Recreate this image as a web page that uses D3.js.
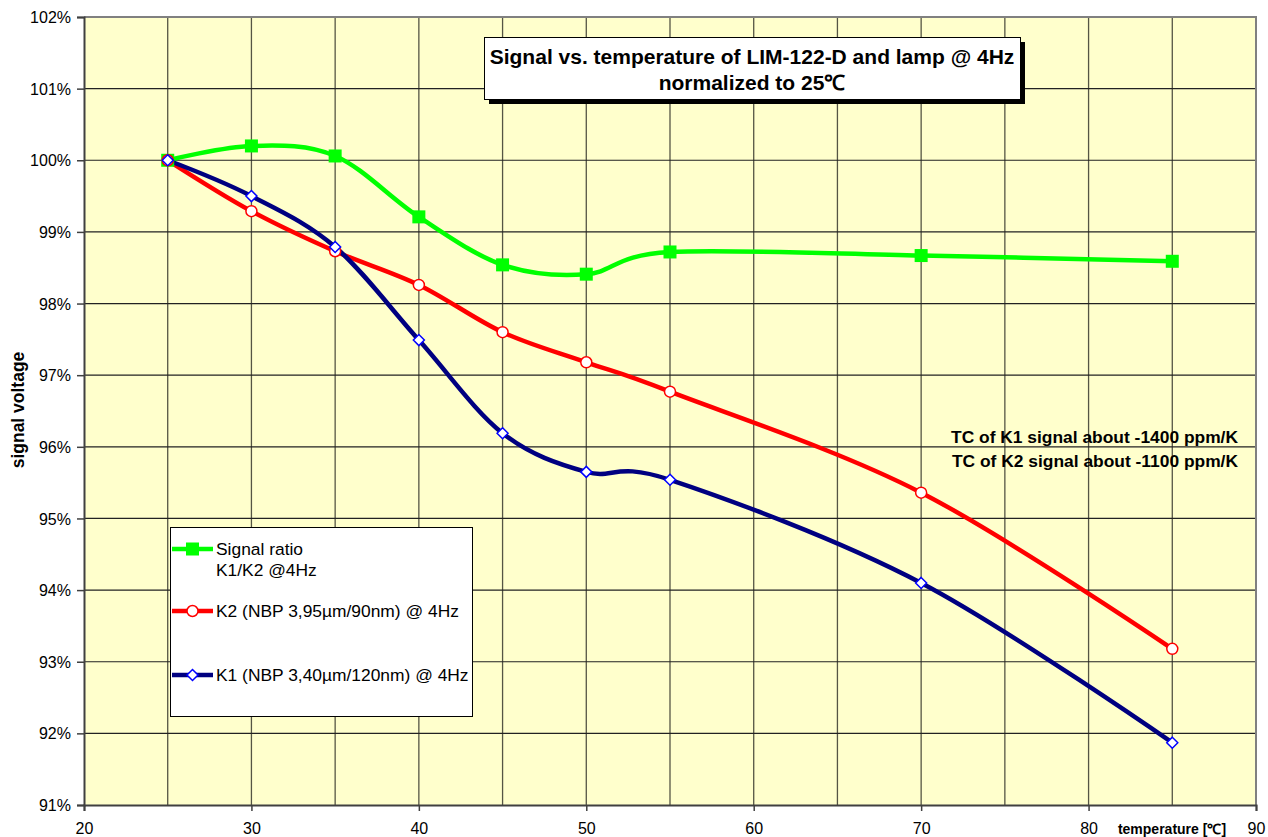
<!DOCTYPE html>
<html><head><meta charset="utf-8">
<script src="https://cdn.jsdelivr.net/npm/d3@7"></script>
<style>
body{margin:0;background:#fff;font-family:"Liberation Sans",Arial,sans-serif;}
svg text{font-family:"Liberation Sans",Arial,sans-serif;}
</style></head>
<body>
<svg id="chart" width="1268" height="837"></svg>
<script>
const temperatures = [25, 30, 35, 40, 45, 50, 55, 70, 85];
const ratioK1K2 = [100.0, 100.20, 100.06, 99.21, 98.54, 98.41, 98.72, 98.67, 98.59];
const k2Signal = [100.0, 99.29, 98.73, 98.26, 97.60, 97.18, 96.77, 95.36, 93.18];
const k1Signal = [100.0, 99.50, 98.79, 97.49, 96.19, 95.65, 95.54, 94.10, 91.87];
const xTicks = [20, 30, 40, 50, 60, 70, 80, 90];
const yTicks = [91, 92, 93, 94, 95, 96, 97, 98, 99, 100, 101, 102];
const seriesNames = ["Signal ratio|K1/K2 @4Hz", "K2 (NBP 3,95µm/90nm) @ 4Hz", "K1 (NBP 3,40µm/120nm) @ 4Hz"];
const titleLines = ["Signal vs. temperature of LIM-122-D and lamp @ 4Hz", "normalized to 25℃"];
const noteLines = ["TC of K1 signal about -1400 ppm/K", "TC of K2 signal about -1100 ppm/K"];

const svg = d3.select("#chart");
const L = 84, T = 17, R = 1256, B = 805;
const x = d3.scaleLinear().domain([20, 90]).range([L, R]);
const y = d3.scaleLinear().domain([91, 102]).range([B, T]);

// plot background
svg.append("rect").attr("x", L).attr("y", T).attr("width", R - L).attr("height", B - T).attr("fill", "#FFFFCC");

// grid
const g = svg.append("g");
d3.range(25, 90, 5).forEach(v => {
  g.append("line").attr("x1", x(v)).attr("x2", x(v)).attr("y1", T).attr("y2", B)
    .attr("stroke", "#555544").attr("stroke-width", 1.3);
});
yTicks.slice(1, -1).forEach(v => {
  g.append("line").attr("x1", L).attr("x2", R).attr("y1", y(v)).attr("y2", y(v))
    .attr("stroke", "#222").attr("stroke-width", 1.2);
});
// border top/right
svg.append("path").attr("d", `M${L},${T}H${R}V${B}`).attr("fill", "none").attr("stroke", "#808080").attr("stroke-width", 2);

// axes
const yAxis = d3.axisLeft(y).tickValues(yTicks).tickFormat(d => d + "%").tickSize(7).tickPadding(6);
const ya = svg.append("g").attr("transform", `translate(${L},0)`).call(yAxis);
const xAxis = d3.axisBottom(x).tickValues(xTicks).tickSize(6).tickPadding(12);
const xa = svg.append("g").attr("transform", `translate(0,${B})`).call(xAxis);
[ya, xa].forEach(a => {
  a.select(".domain").attr("stroke", "#404040").attr("stroke-width", 2);
  a.selectAll(".tick line").attr("stroke", "#404040").attr("stroke-width", 1.5);
  a.selectAll("text").attr("font-size", 16).attr("fill", "#000").attr("font-family", "Liberation Sans, Arial, sans-serif");
});
ya.selectAll("text").attr("dy", "0.35em");

// axis titles
svg.append("text").attr("transform", "translate(24,410) rotate(-90)").attr("text-anchor", "middle")
  .attr("font-size", 17.5).attr("font-weight", "bold").text("signal voltage");
svg.append("text").attr("x", 1172).attr("y", 834).attr("text-anchor", "middle")
  .attr("font-size", 14).attr("font-weight", "bold").text("temperature [℃]");

// series
const series = [
  {vals: ratioK1K2, line: "#00FF00", marker: "square"},
  {vals: k2Signal, line: "#FF0000", marker: "circle"},
  {vals: k1Signal, line: "#000080", marker: "diamond"}
];
const lineGen = d3.line().x(d => x(d[0])).y(d => y(d[1])).curve(d3.curveCatmullRom.alpha(0));
function drawMarker(sel, type, cx, cy) {
  if (type === "square") {
    sel.append("rect").attr("x", cx - 6.5).attr("y", cy - 6.5).attr("width", 13).attr("height", 13).attr("fill", "#00FF00");
  } else if (type === "circle") {
    sel.append("circle").attr("cx", cx).attr("cy", cy).attr("r", 5.5).attr("fill", "#fff").attr("stroke", "#FF0000").attr("stroke-width", 1.5);
  } else {
    sel.append("path").attr("d", `M${cx},${cy - 5.5}L${cx + 5.5},${cy}L${cx},${cy + 5.5}L${cx - 5.5},${cy}Z`)
      .attr("fill", "#fff").attr("stroke", "#0000FF").attr("stroke-width", 1.5);
  }
}
series.forEach(s => {
  const pts = temperatures.map((t, i) => [t, s.vals[i]]);
  svg.append("path").attr("d", lineGen(pts)).attr("fill", "none").attr("stroke", s.line).attr("stroke-width", 4.5);
});
series.forEach(s => {
  const mg = svg.append("g");
  temperatures.forEach((t, i) => drawMarker(mg, s.marker, x(t), y(s.vals[i])));
});

// title box
const tb = svg.append("g");
tb.append("rect").attr("x", 489).attr("y", 42).attr("width", 536).attr("height", 62).attr("fill", "#000");
tb.append("rect").attr("x", 484.5).attr("y", 37.5).attr("width", 536).attr("height", 62).attr("fill", "#fff").attr("stroke", "#000").attr("stroke-width", 1);
titleLines.forEach((t, i) => {
  tb.append("text").attr("x", 752).attr("y", 64 + i * 26).attr("text-anchor", "middle")
    .attr("font-size", 21).attr("font-weight", "bold").text(t);
});

// note
noteLines.forEach((t, i) => {
  svg.append("text").attr("x", 1238).attr("y", 443 + i * 24).attr("text-anchor", "end")
    .attr("font-size", 17.4).attr("font-weight", "bold").text(t);
});

// legend
const lg = svg.append("g");
lg.append("rect").attr("x", 170.5).attr("y", 527.5).attr("width", 302).attr("height", 189).attr("fill", "#fff").attr("stroke", "#000").attr("stroke-width", 1);
const legY = [549, 611, 675];
series.forEach((s, i) => {
  lg.append("line").attr("x1", 172).attr("x2", 213).attr("y1", legY[i]).attr("y2", legY[i]).attr("stroke", s.line).attr("stroke-width", 4.5);
  drawMarker(lg, s.marker, 192.5, legY[i]);
  seriesNames[i].split("|").forEach((t, j) => {
    lg.append("text").attr("x", 216).attr("y", legY[i] + 6 + j * 21).attr("font-size", 17.4).text(t);
  });
});
</script>
</body></html>
